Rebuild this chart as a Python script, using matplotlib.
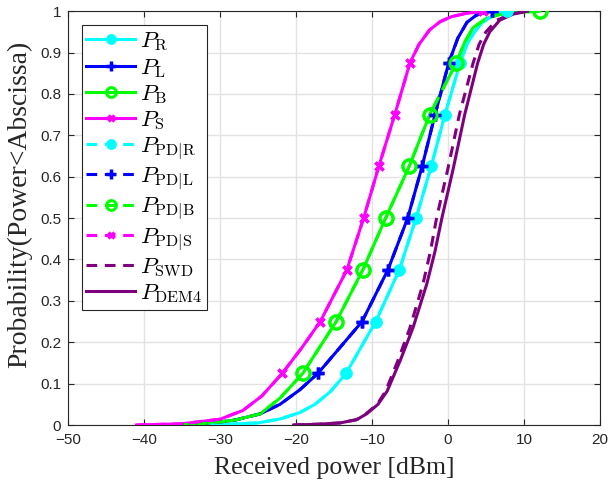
import numpy as np
import matplotlib
matplotlib.use("Agg")
import matplotlib.pyplot as plt

plt.rcParams['mathtext.fontset'] = 'cm'

# CDF curves (x in dBm, y = probability)
r_x = [-31.3, -25, -22, -19.5, -17.5, -15.5, -13.4, -9.5, -6.4, -4.2, -2.2, -0.4, 1.6, 2.5, 3.5, 4.5, 5.5, 6.5, 7.8]
r_y = [0, 0.005, 0.015, 0.03, 0.05, 0.08, 0.125, 0.25, 0.375, 0.5, 0.625, 0.75, 0.875, 0.92, 0.95, 0.972, 0.985, 0.995, 1.0]

l_x = [-35.5, -31, -28, -24.7, -22.1, -19.5, -17.1, -11.3, -7.9, -5.3, -3.4, -1.7, 0.1, 1.3, 2.5, 3.7, 4.9, 5.8]
l_y = [0, 0.005, 0.012, 0.027, 0.05, 0.085, 0.125, 0.25, 0.375, 0.5, 0.625, 0.75, 0.875, 0.935, 0.973, 0.99, 0.997, 1.0]

b_x = [-35.5, -31, -28, -24.7, -22.1, -19.1, -14.7, -11.2, -8.2, -5.1, -2.4, 1.1, 2.2, 3.3, 5.0, 6.8, 9.0, 12.1]
b_y = [0, 0.005, 0.012, 0.027, 0.065, 0.125, 0.25, 0.375, 0.5, 0.625, 0.75, 0.875, 0.925, 0.96, 0.982, 0.992, 0.997, 1.0]

s_x = [-41, -35, -30, -27, -24.5, -21.8, -19.3, -16.8, -13.3, -11.1, -9.1, -7.0, -5.0, -3.8, -2.4, -1.0, 0.5, 2.2, 3.8, 4.6]
s_y = [0, 0.003, 0.014, 0.035, 0.07, 0.125, 0.185, 0.25, 0.375, 0.5, 0.625, 0.75, 0.875, 0.92, 0.955, 0.975, 0.987, 0.994, 0.998, 1.0]

dem4_x = [-20.3, -17, -14.2, -12, -10.7, -9.2, -8.0, -6.3, -4.6, -2.8, -1.7, -0.8, 0.7, 2.2, 3.9, 4.7, 5.5, 6.8, 8.6, 10.5]
dem4_y = [0, 0.002, 0.005, 0.013, 0.027, 0.05, 0.082, 0.155, 0.235, 0.34, 0.42, 0.5, 0.62, 0.75, 0.874, 0.92, 0.95, 0.978, 0.993, 1.0]

swd_x = [-20.3, -17, -14.2, -12, -10.8, -9.3, -8.2, -6.6, -5.0, -3.3, -2.3, -1.5, 0.0, 1.5, 3.3, 4.1, 5.0, 6.4, 8.3, 10.3]
swd_y = dem4_y

# the PD curves sit on top of their counterparts
pd_r_x, pd_r_y = r_x, r_y
pd_l_x, pd_l_y = l_x, l_y
pd_b_x, pd_b_y = b_x, b_y
pd_s_x, pd_s_y = s_x, s_y

marker_levels = [0.125, 0.25, 0.375, 0.5, 0.625, 0.75, 0.875, 1.0]

x_ticks = [-50, -40, -30, -20, -10, 0, 10, 20]
y_ticks = [0, 0.1, 0.2, 0.3, 0.4, 0.5, 0.6, 0.7, 0.8, 0.9, 1.0]
y_ticklabels = ['0', '0.1', '0.2', '0.3', '0.4', '0.5', '0.6', '0.7', '0.8', '0.9', '1']

cyan = '#00FFFF'
blue = '#0000FF'
green = '#00FF00'
magenta = '#FF00FF'
purple = '#7E007E'

fig = plt.figure(figsize=(6.1, 4.86), dpi=100)
ax = fig.add_axes([0.1115, 0.1255, 0.872, 0.8515])

lw = 2.2
dash = (0, (3.5, 2.5))


def curve(x, y, color, ls, marker, ms, mfc, label, mew=1.8, lms=None):
    xm = np.interp(marker_levels, y, x)
    ax.plot(x, y, color=color, linestyle=ls, linewidth=lw, zorder=3)
    ax.plot(xm, marker_levels, linestyle='none', marker=marker, markersize=ms,
            markerfacecolor=mfc, markeredgecolor=color, markeredgewidth=mew, zorder=4)
    # proxy for legend
    ax.plot([], [], color=color, linestyle=ls, linewidth=lw, marker=marker,
            markersize=lms or ms, markerfacecolor=mfc, markeredgecolor=color,
            markeredgewidth=mew, label=label)


curve(r_x, r_y, cyan, '-', 'o', 7, cyan, r'$P_{\mathrm{R}}$', lms=6)
curve(l_x, l_y, blue, '-', '+', 8, blue, r'$P_{\mathrm{L}}$', mew=2.5, lms=7)
curve(b_x, b_y, green, '-', 'o', 9.5, 'none', r'$P_{\mathrm{B}}$', mew=2.2, lms=7)
curve(s_x, s_y, magenta, '-', 'x', 6, magenta, r'$P_{\mathrm{S}}$', mew=2.4, lms=5)
curve(pd_r_x, pd_r_y, cyan, dash, 'o', 7, cyan, r'$P_{\mathrm{PD|R}}$', lms=6)
curve(pd_l_x, pd_l_y, blue, dash, '+', 8, blue, r'$P_{\mathrm{PD|L}}$', mew=2.5, lms=7)
curve(pd_b_x, pd_b_y, green, dash, 'o', 9.5, 'none', r'$P_{\mathrm{PD|B}}$', mew=2.2, lms=7)
curve(pd_s_x, pd_s_y, magenta, dash, 'x', 6, magenta, r'$P_{\mathrm{PD|S}}$', mew=2.4, lms=5)

ax.plot(swd_x, swd_y, color=purple, linestyle=dash, linewidth=lw, zorder=3,
        label=r'$P_{\mathrm{SWD}}$')
ax.plot(dem4_x, dem4_y, color=purple, linestyle='-', linewidth=lw, zorder=3,
        label=r'$P_{\mathrm{DEM4}}$')

ax.set_xlim(-50, 20)
ax.set_ylim(0, 1)
ax.set_xticks(x_ticks)
ax.set_yticks(y_ticks)
ax.set_yticklabels(y_ticklabels)
ax.grid(True, color='#E3E3E3', linewidth=1.0)
ax.set_axisbelow(True)
ax.tick_params(direction='in', top=True, right=True, length=4, width=0.8,
               labelsize=11, colors='#262626')
ax.tick_params(axis='x', pad=6)
ax.tick_params(axis='y', pad=5)
for lab in ax.get_xticklabels() + ax.get_yticklabels():
    lab.set_family('Liberation Sans')
for sp in ax.spines.values():
    sp.set_color('#262626')
    sp.set_linewidth(0.8)

ax.set_xlabel('Received power [dBm]', family='Liberation Serif', fontsize=18.5,
              color='#262626', labelpad=7)
ax.set_ylabel('Probability(Power<Abscissa)', family='Liberation Serif', fontsize=20,
              color='#262626')
ax.yaxis.set_label_coords(-0.068, 0.533)

leg = ax.legend(loc='upper left', bbox_to_anchor=(0.0255, 0.967), fontsize=16.5,
                handlelength=2.15, handletextpad=0.2, labelspacing=0.1,
                borderpad=0.2, borderaxespad=0.0, fancybox=False, framealpha=1)
leg.get_frame().set_edgecolor('#262626')
leg.get_frame().set_linewidth(0.8)

fig.savefig('out.png', dpi=100)
